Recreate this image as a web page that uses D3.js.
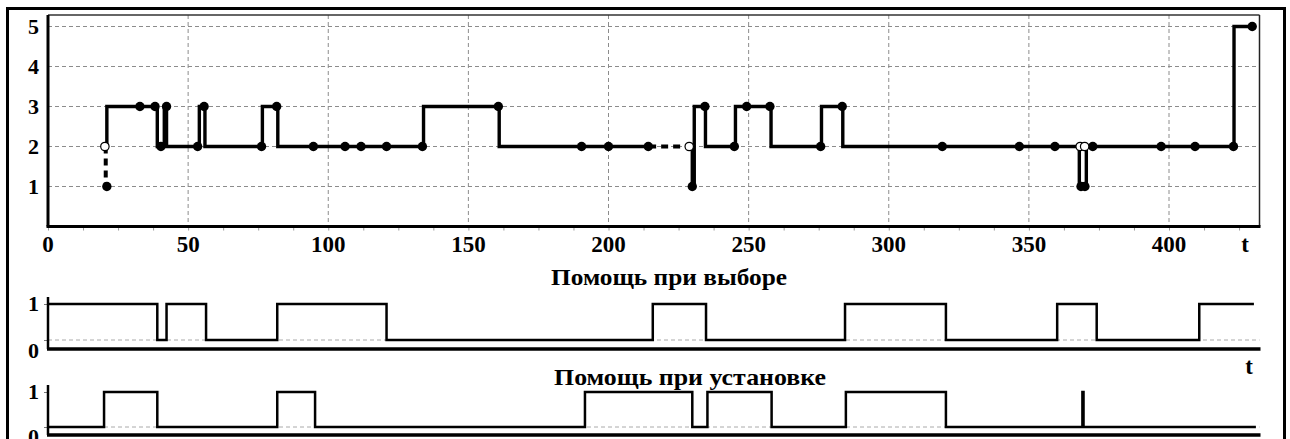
<!DOCTYPE html>
<html><head><meta charset="utf-8">
<script src="https://cdn.jsdelivr.net/npm/d3@7"></script>
<style>html,body{margin:0;padding:0;background:#fff;}svg{display:block;}text{font-family:"Liberation Serif","Times New Roman",serif;font-weight:bold;}</style>
</head><body>
<script>
// ---- data ----
const xTickValues = [0, 50, 100, 150, 200, 250, 300, 350, 400];
const xTickLabels = ["0", "50", "100", "150", "200", "250", "300", "350", "400"];
const yTickValues = [1, 2, 3, 4, 5];
const yTickLabels = ["1", "2", "3", "4", "5"];
const binTickValues = [0, 1];
const binTickLabels = ["0", "1"];
const axisLabel = "t";
const title2 = "Помощь при выборе";
const title3 = "Помощь при установке";

// main state trajectory: [t, value] (value holds from t onward)
const mainSeg1 = [[21,2],[21,3],[39,2],[41.5,3],[42.3,2],[54,3],[56,2],[76.5,3],[82,2],[134,3],[161,2],[214.5,2]];
const mainSeg2 = [[229.9,2],[229.9,1],[230.6,3],[234.6,2],[245.3,3],[258,2],[276,3],[283.6,2],[368,1],[370.5,2],[423.2,5],[429.7,5]];
const mainDashed = [[[20.6,2],[20.6,1]], [[214.5,2],[228.8,2]]];
const mainDots = [[21,1],[32.8,3],[38.2,3],[40.3,2],[42.3,3],[53.4,2],[55.7,3],[76.2,2],[81.6,3],[94.7,2],[106,2],[111.7,2],[120.8,2],[133.6,2],[160.7,3],[190.4,2],[200,2],[214.2,2],[229.9,1],[234.4,3],[244.9,2],[249.3,3],[257.6,3],[275.7,2],[283.4,3],[319.1,2],[346.6,2],[359.3,2],[368.6,1],[370,1],[372.8,2],[397.2,2],[409.3,2],[423,2],[429.7,5]];
const mainOpen = [[20.3,2],[228.8,2],[368.3,2],[369.9,2]];

// binary help signals
const selectHelp = [[0,1],[39,0],[42.3,1],[56.4,0],[81.8,1],[120.8,0],[215.8,1],[234.8,0],[284.4,1],[320.4,0],[360.1,1],[374.2,0],[410.8,1],[430.3,1]];
const installHelp = [[0,0],[20,1],[39,0],[81.8,1],[95.3,0],[191.6,1],[229.9,0],[235.3,1],[258.2,0],[284.7,1],[320.4,0],[369.1,1],[369.5,0],[431,0]];

// ---- drawing ----
const W = 1290, H = 439;
const svg = d3.select("body").append("svg").attr("width", W).attr("height", H);
svg.append("rect").attr("width", W).attr("height", H).attr("fill", "#fff");

const x = d3.scaleLinear().domain([0, 432]).range([48, 48 + 432 * 2.8025]);
const xEnd = 1259.5;
const y = d3.scaleLinear().domain([0, 5]).range([226.5, 26.5]);
const plotTop = 15;

// outer frame
svg.append("rect").attr("x", 7.5).attr("y", 8.5).attr("width", 1277).attr("height", 470)
  .attr("fill", "none").attr("stroke", "#000").attr("stroke-width", 3);

// grid
const g = svg.append("g");
g.selectAll("line.hg").data(yTickValues).join("line")
  .attr("x1", x(0)).attr("x2", xEnd).attr("y1", d => y(d)).attr("y2", d => y(d))
  .attr("stroke", "#8c8c8c").attr("stroke-width", 1).attr("stroke-dasharray", "4,3");
g.selectAll("line.vg").data(xTickValues.filter(d => d > 0)).join("line")
  .attr("x1", d => x(d)).attr("x2", d => x(d)).attr("y1", plotTop).attr("y2", y(0))
  .attr("stroke", "#8c8c8c").attr("stroke-width", 1).attr("stroke-dasharray", "4,3");

// plot frame top/right
svg.append("line").attr("x1", x(0)).attr("x2", xEnd).attr("y1", plotTop).attr("y2", plotTop).attr("stroke", "#333").attr("stroke-width", 1.5);
svg.append("line").attr("x1", xEnd).attr("x2", xEnd).attr("y1", plotTop).attr("y2", y(0)).attr("stroke", "#222").attr("stroke-width", 1.5);

// x axis (main)
const minor = d3.range(0, 432, 12.5);
const xAxis = d3.axisBottom(x).tickValues(minor).tickSize(4).tickSizeOuter(0).tickFormat("");
const xa = svg.append("g").attr("transform", `translate(0,${y(0)})`).call(xAxis);
xa.select(".domain").remove();
xa.selectAll(".tick line").attr("stroke", "#999").attr("stroke-width", 1);
svg.append("line").attr("x1", x(0) - 1.5).attr("x2", xEnd + 1).attr("y1", y(0)).attr("y2", y(0)).attr("stroke", "#000").attr("stroke-width", 3);
svg.append("line").attr("x1", x(0)).attr("x2", x(0)).attr("y1", plotTop).attr("y2", y(0)).attr("stroke", "#000").attr("stroke-width", 3);
svg.selectAll("text.xl").data(xTickValues).join("text")
  .attr("x", d => x(d)).attr("y", 252).attr("text-anchor", "middle")
  .attr("font-size", 23).text((d, i) => xTickLabels[i]);
svg.append("text").attr("x", 1245).attr("y", 252).attr("text-anchor", "middle").attr("font-size", 23).text(axisLabel);

// y labels (main)
svg.selectAll("text.yl").data(yTickValues).join("text")
  .attr("x", 39).attr("y", d => y(d) + 7).attr("text-anchor", "end")
  .attr("font-size", 22).text((d, i) => yTickLabels[i]);

// main trajectory
const stepLine = (sx, sy) => d3.line().x(d => sx(d[0])).y(d => sy(d[1])).curve(d3.curveStepAfter);
const mainLine = stepLine(x, y);
[mainSeg1, mainSeg2].forEach(seg => {
  svg.append("path").attr("d", mainLine(seg)).attr("fill", "none").attr("stroke", "#000")
    .attr("stroke-width", 3.4).attr("stroke-linejoin", "miter");
});
const plain = d3.line().x(d => x(d[0])).y(d => y(d[1]));
mainDashed.forEach(seg => {
  svg.append("path").attr("d", plain(seg)).attr("fill", "none").attr("stroke", "#000")
    .attr("stroke-width", 4).attr("stroke-dasharray", "7,5");
});
svg.selectAll("circle.dot").data(mainDots).join("circle")
  .attr("cx", d => x(d[0])).attr("cy", d => y(d[1])).attr("r", 4.7).attr("fill", "#000");
svg.selectAll("circle.open").data(mainOpen).join("circle")
  .attr("cx", d => x(d[0])).attr("cy", d => y(d[1])).attr("r", 4.2).attr("fill", "#fff")
  .attr("stroke", "#000").attr("stroke-width", 1.2);

// binary charts
function binChart(data, yHigh, yLow, yAxisLine, yTopAxis, title, titleX, titleY, titleW, showT) {
  const yb = d3.scaleLinear().domain([0, 1]).range([yLow, yHigh]);
  svg.append("line").attr("x1", x(0)).attr("x2", xEnd).attr("y1", yb(0)).attr("y2", yb(0))
    .attr("stroke", "#aaa").attr("stroke-width", 1).attr("stroke-dasharray", "4,3");
  const ya = d3.axisLeft(yb).tickValues(binTickValues).tickSize(4).tickFormat("");
  const yag = svg.append("g").attr("transform", `translate(${x(0)},0)`).call(ya);
  yag.select(".domain").remove();
  yag.selectAll(".tick line").attr("stroke", "#777").attr("stroke-width", 1);
  svg.append("line").attr("x1", x(0)).attr("x2", x(0)).attr("y1", yTopAxis).attr("y2", yAxisLine)
    .attr("stroke", "#000").attr("stroke-width", 2.5);
  svg.append("line").attr("x1", x(0) - 1).attr("x2", xEnd + 1).attr("y1", yAxisLine).attr("y2", yAxisLine)
    .attr("stroke", "#000").attr("stroke-width", 3.5);
  svg.append("path").attr("d", stepLine(x, yb)(data)).attr("fill", "none").attr("stroke", "#000")
    .attr("stroke-width", 2.5).attr("stroke-linejoin", "miter");
  svg.append("text").attr("x", 39).attr("y", yb(1) + 7).attr("text-anchor", "end").attr("font-size", 22).text(binTickLabels[1]);
  svg.append("text").attr("x", 39).attr("y", yAxisLine + 9).attr("text-anchor", "end").attr("font-size", 22).text(binTickLabels[0]);
  svg.append("text").attr("x", titleX - titleW / 2).attr("y", titleY).attr("font-size", 23)
    .attr("textLength", titleW).attr("lengthAdjust", "spacingAndGlyphs").text(title);
  if (showT) svg.append("text").attr("x", 1249).attr("y", 374).attr("text-anchor", "middle").attr("font-size", 23).text(axisLabel);
}
binChart(selectHelp, 304, 340, 349, 297, title2, 669, 285, 236, true);
binChart(installHelp, 392, 427, 435, 385, title3, 690, 385, 272, false);
</script>
</body></html>
